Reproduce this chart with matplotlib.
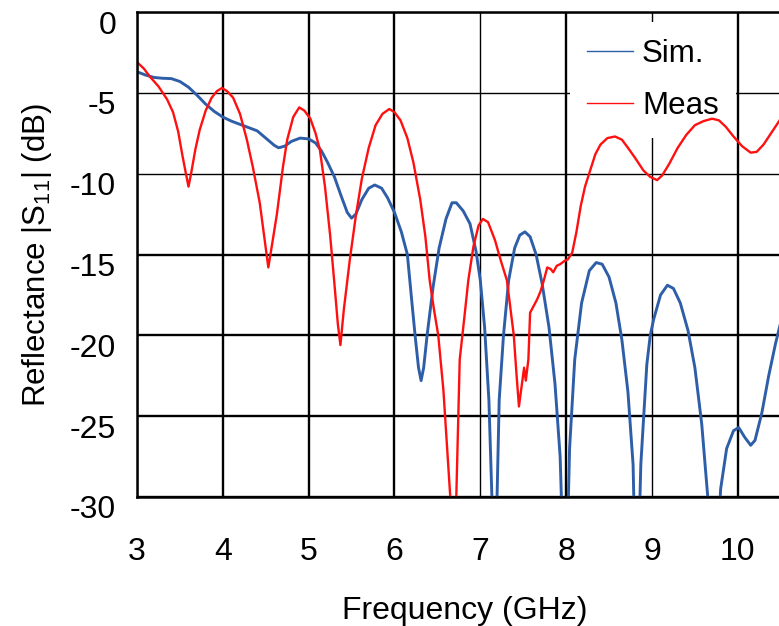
import matplotlib
matplotlib.use("Agg")
import matplotlib.pyplot as plt
import matplotlib.transforms as mtransforms

plt.rcParams['font.family'] = ['Liberation Sans', 'DejaVu Sans']
plt.rcParams['mathtext.fontset'] = 'custom'
plt.rcParams['mathtext.rm'] = 'Liberation Sans'
plt.rcParams['mathtext.it'] = 'Liberation Sans'
plt.rcParams['axes.unicode_minus'] = False

# ---------------- data ----------------
sim_freq = [3.00, 3.10, 3.20, 3.30, 3.40, 3.50, 3.60, 3.70, 3.80, 3.90,
            4.00, 4.10, 4.20, 4.30, 4.40, 4.50, 4.60, 4.65, 4.72, 4.80,
            4.90, 5.00, 5.08, 5.15, 5.22, 5.30, 5.38, 5.45, 5.50, 5.55,
            5.62, 5.70, 5.77, 5.85, 5.92, 6.00, 6.08, 6.15, 6.20, 6.24,
            6.28, 6.31, 6.34, 6.38, 6.45, 6.52, 6.60, 6.67, 6.72, 6.80,
            6.88, 6.95, 7.00, 7.05, 7.10, 7.17, 7.22, 7.27, 7.33, 7.40,
            7.46, 7.52, 7.58, 7.65, 7.72, 7.80, 7.87, 7.93, 7.99, 8.04,
            8.10, 8.18, 8.27, 8.35, 8.42, 8.50, 8.58, 8.65, 8.72, 8.78,
            8.82, 8.87, 8.94, 8.98, 9.02, 9.10, 9.18, 9.25, 9.33, 9.42,
            9.50, 9.58, 9.65, 9.72, 9.80, 9.87, 9.95, 10.01, 10.08, 10.15,
            10.20, 10.28, 10.36, 10.44, 10.50]
sim_db = [-3.7, -3.9, -4.05, -4.1, -4.12, -4.3, -4.65, -5.15, -5.7, -6.15,
          -6.5, -6.75, -6.95, -7.15, -7.35, -7.8, -8.25, -8.4, -8.3, -8.0,
          -7.8, -7.85, -8.1, -8.6, -9.3, -10.2, -11.4, -12.4, -12.75, -12.5,
          -11.6, -10.9, -10.7, -10.9, -11.5, -12.4, -13.6, -15.0, -17.8, -20.0,
          -22.0, -22.8, -22.0, -20.0, -17.0, -14.6, -12.8, -11.8, -11.8, -12.3,
          -13.1, -14.8, -16.6, -19.5, -24.0, -36.0, -24.0, -20.0, -16.6, -14.6,
          -13.8, -13.6, -13.9, -15.0, -16.8, -19.5, -23.0, -27.5, -38.0, -27.0,
          -21.5, -18.0, -16.0, -15.5, -15.6, -16.4, -18.0, -20.3, -23.5, -28.0,
          -38.0, -28.0, -21.8, -20.0, -19.0, -17.5, -16.9, -17.1, -18.0, -19.7,
          -22.0, -25.5, -30.0, -38.0, -29.5, -27.0, -25.9, -25.7, -26.3, -26.8,
          -26.5, -24.8, -22.5, -20.5, -19.2]

meas_freq = [3.00, 3.08, 3.15, 3.25, 3.35, 3.42, 3.48, 3.53, 3.57, 3.60,
             3.63, 3.68, 3.73, 3.80, 3.87, 3.93, 3.99, 4.05, 4.12, 4.20,
             4.28, 4.35, 4.43, 4.49, 4.53, 4.57, 4.63, 4.70, 4.75, 4.82,
             4.89, 4.95, 5.02, 5.08, 5.13, 5.19, 5.25, 5.30, 5.34, 5.37,
             5.41, 5.48, 5.55, 5.62, 5.70, 5.78, 5.86, 5.94, 6.00, 6.07,
             6.15, 6.22, 6.30, 6.36, 6.41, 6.46, 6.51, 6.57, 6.65, 6.69,
             6.72, 6.76, 6.82, 6.86, 6.92, 6.98, 7.03, 7.09, 7.17, 7.24,
             7.31, 7.39, 7.42, 7.45, 7.49, 7.51, 7.53, 7.56, 7.58, 7.62,
             7.66, 7.70, 7.74, 7.78, 7.82, 7.85, 7.89, 7.93, 7.98, 8.02,
             8.07, 8.12, 8.17, 8.22, 8.28, 8.34, 8.40, 8.48, 8.57, 8.65,
             8.72, 8.80, 8.90, 8.98, 9.06, 9.12, 9.20, 9.30, 9.40, 9.50,
             9.60, 9.70, 9.78, 9.86, 9.95, 10.05, 10.15, 10.22, 10.30, 10.40,
             10.50]
meas_db = [-3.1, -3.5, -4.0, -4.6, -5.4, -6.2, -7.4, -8.9, -10.0, -10.8,
           -10.0, -8.5, -7.3, -6.1, -5.3, -4.9, -4.7, -4.9, -5.3, -6.3,
           -7.9, -9.6, -11.8, -14.2, -15.8, -14.5, -12.5, -9.6, -7.9, -6.5,
           -5.9, -6.1, -6.6, -7.5, -8.5, -10.8, -13.8, -16.8, -19.3, -20.6,
           -18.4, -15.3, -12.6, -10.3, -8.4, -7.0, -6.3, -6.0, -6.2, -6.7,
           -7.8, -9.3, -11.6, -13.9, -16.6, -18.4, -20.0, -23.4, -30.0, -36.0,
           -30.0, -21.5, -18.6, -16.6, -14.5, -13.2, -12.8, -13.0, -14.1, -15.4,
           -16.6, -20.0, -22.3, -24.4, -22.8, -22.0, -22.8, -21.5, -18.6, -18.2,
           -17.8, -17.3, -16.6, -15.8, -15.9, -16.1, -15.7, -15.6, -15.4, -15.3,
           -14.9, -13.6, -12.0, -10.8, -9.8, -8.8, -8.2, -7.8, -7.7, -7.9,
           -8.4, -9.0, -9.8, -10.2, -10.4, -10.1, -9.4, -8.4, -7.6, -7.0,
           -6.75, -6.6, -6.7, -7.1, -7.7, -8.3, -8.7, -8.65, -8.2, -7.4,
           -6.6]

x_ticks = [3, 4, 5, 6, 7, 8, 9, 10]
y_ticks = [0, -5, -10, -15, -20, -25, -30]
thin_x = [7, 9]
thin_y = [-5, -10]

# ---------------- figure ----------------
fig = plt.figure(figsize=(7.79, 6.26), dpi=100)
ax = fig.add_axes([137 / 779, 129 / 626, 642 / 779, 485 / 626])

ax.plot(sim_freq, sim_db, color='#2f5ea8', lw=2.1, label='Sim.', zorder=2)
ax.plot(meas_freq, meas_db, color='#ff1010', lw=1.7, label='Meas', zorder=2)

ax.set_xlim(3, 10.48)
ax.set_ylim(-30, 0)
ax.set_xticks(x_ticks)
ax.set_yticks(y_ticks)
ax.tick_params(length=0, labelsize=23)
ax.tick_params(axis='x', pad=29)
ax.tick_params(axis='y', pad=15)

ax.set_axisbelow(True)
ax.grid(True, color='black', lw=1.7)
for t, g in zip(x_ticks, ax.xaxis.get_gridlines()):
    if t in thin_x:
        g.set_linewidth(1.0)
for t, g in zip(y_ticks, ax.yaxis.get_gridlines()):
    if t in thin_y:
        g.set_linewidth(1.0)

for s in ['top', 'left', 'bottom']:
    ax.spines[s].set_linewidth(1.8)
ax.spines['right'].set_visible(False)

# y tick labels sit a little below their grid lines
off = mtransforms.ScaledTranslation(0, -10 / 100, fig.dpi_scale_trans)
for lab in ax.get_yticklabels():
    lab.set_transform(lab.get_transform() + off)

ax.set_ylabel(r'Reflectance |S$_{11}$| (dB)', fontsize=22.5)
ax.yaxis.set_label_coords(-0.13, 0.5)
ax.set_xlabel('Frequency (GHz)', fontsize=23, va='top')
ax.xaxis.set_label_coords(0.51, -0.205)

leg = ax.legend(loc='upper left', bbox_to_anchor=(0.6745, 0.98), fontsize=22.5,
                frameon=True, facecolor='white', edgecolor='none', framealpha=1,
                fancybox=False, borderpad=0.55, borderaxespad=0,
                handlelength=1.45, handletextpad=0.3, labelspacing=0.7)
leg.set_zorder(1.5)
for line in leg.get_lines():
    line.set_linewidth(1.0)

fig.savefig('out.png', dpi=100)
